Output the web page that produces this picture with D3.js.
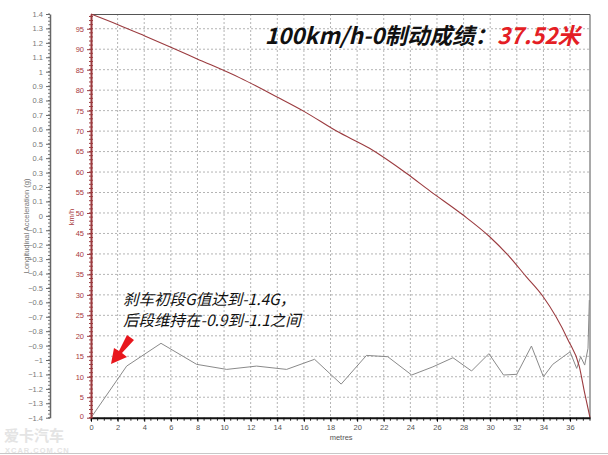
<!DOCTYPE html>
<html>
<head>
<meta charset="utf-8">
<script src="https://cdn.jsdelivr.net/npm/d3@7"></script>
<style>
  body { margin: 0; background: #fff; }
  svg { display: block; font-family: "Liberation Sans", Arial, sans-serif; }
</style>
</head>
<body>
<div id="chart"></div>
<script>
// speed trace (km/h against metres)
var speedDist = [0, 2.03, 4, 6, 7.94, 11.19, 13.94, 16.07, 18.45, 20.93, 23.7, 25.46, 27.96, 29.96, 31.34, 32.72, 33.97, 35.85, 36.7, 37.1, 37.5];
var speedKmh  = [98.6, 96.0, 93.3, 90.5, 87.7, 83.0, 78.4, 74.7, 70.0, 65.8, 59.7, 55.4, 49.5, 44.2, 39.7, 34.4, 29.6, 19.0, 12.5, 6.0, 0];

// longitudinal acceleration trace (g against metres)
var accDist = [0, 2.68, 5.26, 7.94, 10.2, 12.44, 14.7, 16.8, 18.8, 20.7, 22.3, 24.1, 25.7, 27.2, 28.6, 29.9, 31.0, 32.0, 33.1, 34.0, 34.7, 36.0, 36.5, 36.8, 37.1, 37.35, 37.45];
var accG    = [-1.40, -1.042, -0.884, -1.030, -1.065, -1.042, -1.065, -0.995, -1.167, -0.968, -0.977, -1.104, -1.047, -0.984, -1.076, -0.956, -1.104, -1.099, -0.903, -1.116, -1.030, -0.943, -1.058, -0.977, -1.035, -0.919, -0.584];

var xTicks = d3.range(0, 37, 2);
var speedTicks = d3.range(0, 100, 5);
var gTicks = d3.range(-14, 15).map(function(d) { return d / 10; });

var title1 = "100km/h-0制动成绩：";
var title2 = "37.52米";
var note1 = "刹车初段G值达到-1.4G，";
var note2 = "后段维持在-0.9到-1.1之间";

// dimensions
var margin = {top: 14, right: 18, bottom: 37.3, left: 91},
    width = 608 - margin.left - margin.right,
    height = 455 - margin.top - margin.bottom;

var x = d3.scaleLinear().domain([0, 37.5]).range([0, width]);
var yV = d3.scaleLinear().domain([0, 98.6]).range([height, 0]);
var yG = d3.scaleLinear().domain([-1.4, 1.4]).range([height, 0]);

var root = d3.select("#chart").append("svg")
    .attr("width", 608)
    .attr("height", 455);

// watermark
root.append("text").attr("x", 4).attr("y", 441)
    .attr("font-family", "Noto Sans CJK SC").attr("font-weight", "bold")
    .attr("font-size", 15).attr("fill", "#e4e4e4").text("爱卡汽车");
root.append("text").attr("x", 5).attr("y", 453)
    .attr("font-family", "Liberation Sans").attr("font-weight", "bold")
    .attr("font-size", 7.5).attr("fill", "#e4e4e4").attr("letter-spacing", 1).text("XCAR.COM.CN");
root.append("line").attr("x1", 0).attr("x2", 608).attr("y1", 453.5).attr("y2", 453.5)
    .attr("stroke", "#c8c8c8");

var svg = root.append("g")
    .attr("transform", "translate(" + margin.left + "," + margin.top + ")");

// grid
svg.selectAll(".hgrid").data(speedTicks.slice(1)).enter().append("line")
    .attr("x1", 0).attr("x2", width)
    .attr("y1", function(d) { return yV(d); }).attr("y2", function(d) { return yV(d); })
    .attr("stroke", "#b4b4b4").attr("stroke-dasharray", "2,2");
svg.selectAll(".vgrid").data(xTicks.slice(1)).enter().append("line")
    .attr("y1", 0).attr("y2", height)
    .attr("x1", function(d) { return x(d); }).attr("x2", function(d) { return x(d); })
    .attr("stroke", "#b4b4b4").attr("stroke-dasharray", "2,2");

// frame top / right
svg.append("path")
    .attr("d", "M0,0.5H" + width + "V" + height)
    .attr("fill", "none").attr("stroke", "#555");

// acceleration line
var accLine = d3.line()
    .x(function(d, i) { return x(accDist[i]); })
    .y(function(d) { return yG(d); });
svg.append("path").datum(accG)
    .attr("d", accLine)
    .attr("fill", "none").attr("stroke", "#8a8a8a").attr("stroke-width", 1);

// speed line
var speedLine = d3.line()
    .x(function(d, i) { return x(speedDist[i]); })
    .y(function(d) { return yV(d); })
    .curve(d3.curveMonotoneX);
svg.append("path").datum(speedKmh)
    .attr("d", speedLine)
    .attr("fill", "none").attr("stroke", "#9b3b3f").attr("stroke-width", 1.1);

// x axis
var xMinor = svg.append("g").attr("transform", "translate(0," + height + ")");
xMinor.selectAll("line").data(d3.range(0, 37.6, 0.5)).enter().append("line")
    .attr("x1", function(d) { return x(d); }).attr("x2", function(d) { return x(d); })
    .attr("y1", 0).attr("y2", 3).attr("stroke", "#222");
var xAxis = svg.append("g")
    .attr("transform", "translate(0," + height + ")")
    .call(d3.axisBottom(x).tickValues(xTicks).tickSize(4).tickSizeOuter(0));
xAxis.select(".domain").attr("stroke", "#111").attr("stroke-width", 2);
xAxis.selectAll("text").attr("font-size", 7.5).attr("fill", "#555").attr("font-family", "Liberation Sans");
svg.append("text").attr("x", x(18.8)).attr("y", height + 22)
    .attr("font-size", 7.5).attr("fill", "#555").attr("text-anchor", "middle").text("metres");

// speed axis (red, at plot left)
var vMinor = svg.append("g");
vMinor.selectAll("line").data(d3.range(0, 99, 1)).enter().append("line")
    .attr("x1", -2).attr("x2", 2)
    .attr("y1", function(d) { return yV(d); }).attr("y2", function(d) { return yV(d); })
    .attr("stroke", "#9b3b3f");
var vAxis = svg.append("g")
    .call(d3.axisLeft(yV).tickValues(speedTicks).tickSize(4).tickSizeOuter(0));
vAxis.select(".domain").attr("stroke", "#9b3b3f").attr("stroke-width", 2);
vAxis.selectAll(".tick line").attr("stroke", "#9b3b3f");
vAxis.selectAll("text").attr("font-size", 7.5).attr("fill", "#a8383c").attr("font-family", "Liberation Sans");
vAxis.selectAll(".tick").filter(function(d) { return d === 0; }).select("text").attr("dy", "0.1em");
svg.append("text")
    .attr("transform", "translate(-17," + yV(49) + ") rotate(-90)")
    .attr("text-anchor", "middle").attr("font-size", 7.5).attr("fill", "#a8383c").text("km/h");

// acceleration axis (grey, far left)
var gAxisG = svg.append("g").attr("transform", "translate(-41,0)");
gAxisG.selectAll(".minor").data(d3.range(-1.4, 1.401, 0.025)).enter().append("line")
    .attr("x1", -2).attr("x2", 0)
    .attr("y1", function(d) { return yG(d); }).attr("y2", function(d) { return yG(d); })
    .attr("stroke", "#777");
var gAxis = gAxisG.append("g")
    .call(d3.axisLeft(yG).tickValues(gTicks).tickSize(4).tickSizeOuter(0)
      .tickFormat(function(d) { return d3.format("")(+d.toFixed(1)); }));
gAxis.select(".domain").attr("stroke", "#666").attr("stroke-width", 1.5);
gAxis.selectAll(".tick line").attr("stroke", "#666");
gAxis.selectAll("text").attr("font-size", 7.5).attr("fill", "#777").attr("font-family", "Liberation Sans");
svg.append("text")
    .attr("transform", "translate(-62," + (yG(-0.07)) + ") rotate(-90)")
    .attr("text-anchor", "middle").attr("font-size", 7.5).attr("fill", "#777")
    .text("Longitudinal Acceleration (g)");

// title
var title = root.append("text")
    .attr("x", 580).attr("y", 44).attr("text-anchor", "end")
    .attr("font-family", "Noto Sans CJK SC").attr("font-weight", "bold")
    .attr("font-style", "italic").attr("font-size", 22.5);
title.append("tspan").attr("fill", "#111").text(title1);
title.append("tspan").attr("fill", "#e41e25").text(title2);

// annotation
root.append("text").attr("x", 123).attr("y", 305)
    .attr("font-family", "Noto Sans CJK SC").attr("font-style", "italic")
    .attr("font-size", 15.5).attr("fill", "#111").text(note1);
root.append("text").attr("x", 123).attr("y", 326)
    .attr("font-family", "Noto Sans CJK SC").attr("font-style", "italic")
    .attr("font-size", 15.5).attr("fill", "#111").text(note2);

// red arrow
root.append("path")
    .attr("d", "M127,335 L134,340 L122,353 L127,357 L111,364 L114,348 L119,351 Z")
    .attr("fill", "#e8161c");
</script>
</body>
</html>
